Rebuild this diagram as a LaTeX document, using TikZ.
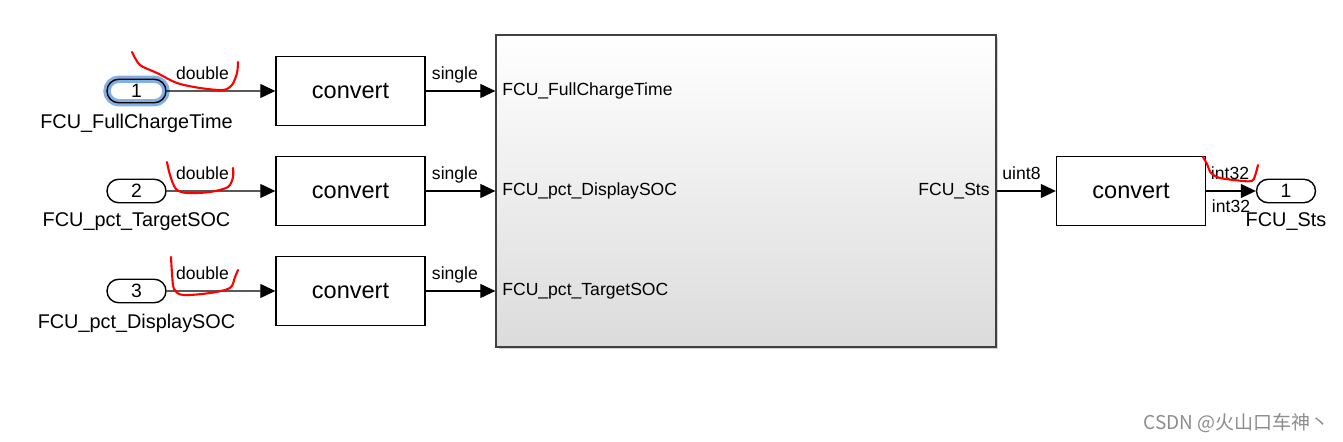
\documentclass[tikz,border=0pt]{standalone}
\usepackage{fontspec}
\setmainfont{Liberation Sans}
\newfontfamily\cjk{Noto Sans CJK SC}
\usepackage{tikz}
\usetikzlibrary{arrows.meta, positioning, shapes.misc, shadows}

\begin{document}
\begin{tikzpicture}[
        x=0.02cm, y=-0.02cm,
        conv/.style={draw, line width=0.8pt, minimum width=2.98cm, minimum height=1.38cm, inner sep=0pt, font=\fontsize{13.4}{15}\selectfont},
        port/.style={draw, line width=0.8pt, rounded rectangle, minimum width=1.18cm, minimum height=0.47cm, inner sep=0pt, font=\fontsize{11}{13}\selectfont},
        picked/.style={preaction={draw=cyan!60!blue!50, line width=4.2pt}},
        lbl/.style={inner sep=0pt, font=\fontsize{11.3}{13}\selectfont},
        sig/.style={inner sep=0pt, text height=0.72em, text depth=0.22em, font=\fontsize{10}{12}\selectfont},
        pin/.style={inner sep=0pt, font=\fontsize{10}{12}\selectfont},
        wire/.style={line width=0.6pt, -{Triangle[length=0.3cm, width=0.28cm]}},
        scrib/.style={red, line width=1.2pt, line cap=round, line join=round}
    ]
    \useasboundingbox (0,0) rectangle (1343,442);
    % Define nodes
    \node[port, picked] (in1) at (136.5,91) {1};
    \node[port] (in2) at (136.5,191) {2};
    \node[port] (in3) at (136.5,291) {3};
    \node[lbl] (n1) at (136.5,123) {FCU\_FullChargeTime};
    \node[lbl] (n2) at (136.5,222) {FCU\_pct\_TargetSOC};
    \node[lbl] (n3) at (136.5,323) {FCU\_pct\_DisplaySOC};
    \node[conv] (c1) at (350.5,91) {convert};
    \node[conv] (c2) at (350.5,191) {convert};
    \node[conv] (c3) at (350.5,291) {convert};
    \node[draw=black!75, line width=0.8pt, minimum width=10cm, minimum height=6.24cm,
          top color=white, middle color=black!5, bottom color=black!14,
          drop shadow={shadow xshift=0.05cm, shadow yshift=-0.05cm, fill=black!30, opacity=0.6}]
          (big) at (746,191) {};
    \node[pin, anchor=west] (p1) at (502,91) {FCU\_FullChargeTime};
    \node[pin, anchor=west] (p2) at (502,191) {FCU\_pct\_DisplaySOC};
    \node[pin, anchor=west] (p3) at (502,291) {FCU\_pct\_TargetSOC};
    \node[pin, anchor=east] (po) at (990,191) {FCU\_Sts};
    \node[conv] (c4) at (1131,191) {convert};
    \node[port] (out1) at (1286,191) {1};
    \node[lbl] (no) at (1286,222) {FCU\_Sts};
    % Draw edges
    \draw[wire] (in1) -- (c1) node[sig, pos=0.33, above=4pt] {double};
    \draw[wire] (in2) -- (c2) node[sig, pos=0.33, above=4pt] {double};
    \draw[wire] (in3) -- (c3) node[sig, pos=0.33, above=4pt] {double};
    \draw[wire] (c1) -- (c1 -| big.west) node[sig, pos=0.42, above=4pt] {single};
    \draw[wire] (c2) -- (c2 -| big.west) node[sig, pos=0.42, above=4pt] {single};
    \draw[wire] (c3) -- (c3 -| big.west) node[sig, pos=0.42, above=4pt] {single};
    \draw[wire] (big.east |- c4) -- (c4) node[sig, pos=0.42, above=4pt] {uint8};
    \draw[wire] (c4) -- (out1)
        node[sig, pos=0.48, above=4pt] {int32}
        node[sig, pos=0.5, below=5pt] {int32};
    % red marks
    \draw[scrib] plot[smooth] coordinates {(132,52) (140,65) (157,73) (177,83) (200,88) (223,90) (232,85) (237,73) (238,62)};
    \draw[scrib] plot[smooth] coordinates {(167,162) (170,175) (176,189) (187,193) (210,192) (228,187) (233,177) (233,168)};
    \draw[scrib] plot[smooth] coordinates {(171,257) (172,273) (174,289) (183,295) (210,293) (230,288) (235,277) (238,270)};
    \draw[scrib] plot[smooth] coordinates {(1203,157) (1207,164) (1211,173) (1220,178) (1243,181) (1252,181) (1255,176) (1258,165)};
    % watermark
    \node[inner sep=0pt, text=black!45, font=\cjk\fontsize{10.8}{13}\selectfont, anchor=east] (wm) at (1330,423) {CSDN @火山口车神丶};
\end{tikzpicture}
\end{document}
